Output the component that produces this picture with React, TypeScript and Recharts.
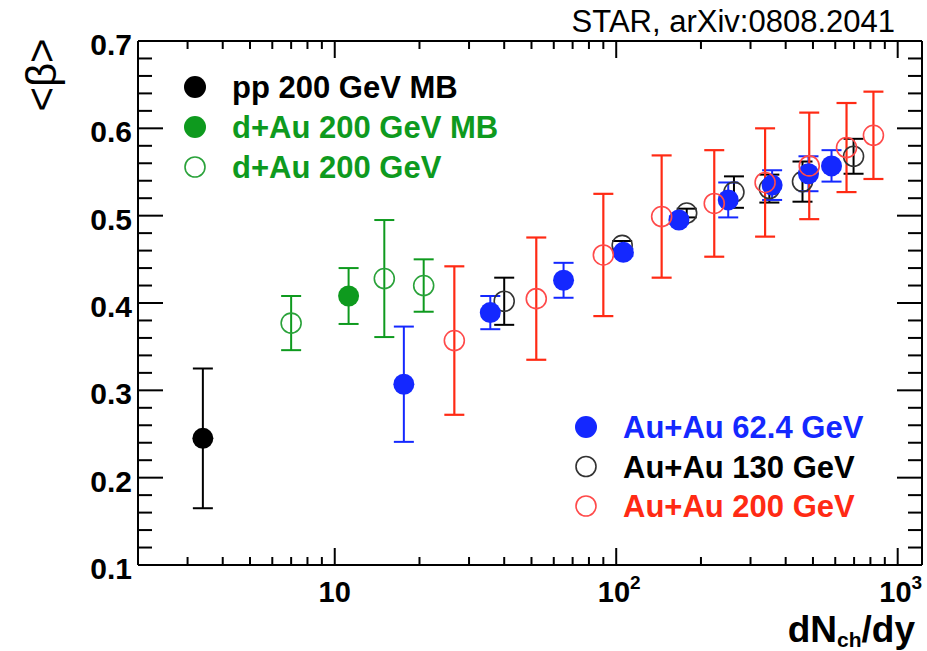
import { ScatterChart, Scatter, XAxis, YAxis, ErrorBar } from 'recharts';

// dN_ch/dy, <beta>, error
const ppX = [3.4];
const ppY = [0.245];
const ppErr = [0.08];

const dAuMBX = [11.2];
const dAuMBY = [0.408];
const dAuMBErr = [0.032];

const dAuX = [7.0, 15.0, 20.7];
const dAuY = [0.377, 0.428, 0.42];
const dAuErr = [0.031, 0.067, 0.03];

const au62X = [17.6, 35.7, 65, 106, 167, 250, 358, 482, 582];
const au62Y = [0.307, 0.389, 0.426, 0.458, 0.495, 0.518, 0.535, 0.548, 0.557];
const au62Err = [0.066, 0.019, 0.02, 0.004, 0.004, 0.02, 0.017, 0.02, 0.018];

const au130X = [40, 105, 178, 262, 350, 459, 697];
const au130Y = [0.402, 0.466, 0.503, 0.527, 0.531, 0.539, 0.568];
const au130Err = [0.027, 0.005, 0.005, 0.018, 0.016, 0.023, 0.02];

const au200X = [26.6, 52, 90, 145, 223, 338, 485, 658, 820];
const au200Y = [0.357, 0.405, 0.455, 0.499, 0.514, 0.538, 0.557, 0.578, 0.592];
const au200Err = [0.085, 0.07, 0.07, 0.07, 0.061, 0.062, 0.061, 0.051, 0.05];

const yMajor = [0.1, 0.2, 0.3, 0.4, 0.5, 0.6, 0.7];
const xMajor = [10, 100, 1000];

const yTicks: number[] = [];
for (let i = 0; i <= 30; i++) yTicks.push(+(0.1 + i * 0.02).toFixed(2));
const xTicks: number[] = [];
[1, 10, 100].forEach((d) => {
  for (let m = 1; m <= 9; m++) {
    const v = m * d;
    if (v >= 3 && v <= 1000) xTicks.push(v);
  }
});
xTicks.push(1000);

const zip = (xs: number[], ys: number[], es: number[]) =>
  xs.map((x, i) => ({ x, y: ys[i], err: es[i] }));

const BLACK = '#000';
const GREEN = '#0e9a1e';
const GREEN_OPEN = '#2aa23a';
const BLUE = '#1428ff';
const RED = '#ff2a14';
const RED_OPEN = '#ff4a4a';

const FONT = '"Liberation Sans", Arial, Helvetica, sans-serif';

const isMajorY = (v: number) => yMajor.some((m) => Math.abs(m - v) < 1e-6);
const isMajorX = (v: number) => xMajor.includes(v);

const LeftTick = (p: any) => {
  const v = p.payload.value;
  const major = isMajorY(v);
  return (
    <g>
      <line x1={p.x} x2={p.x + (major ? 25 : 14)} y1={p.y} y2={p.y} stroke="#000" strokeWidth={2} />
      {major && (
        <text x={p.x - 6} y={p.y + 14} textAnchor="end" fontFamily={FONT} fontWeight="bold" fontSize={30} fill="#000">
          {v.toFixed(1)}
        </text>
      )}
    </g>
  );
};

const RightTick = (p: any) => {
  const major = isMajorY(p.payload.value);
  return <line x1={p.x} x2={p.x - (major ? 25 : 14)} y1={p.y} y2={p.y} stroke="#000" strokeWidth={2} />;
};

const BottomTick = (p: any) => {
  const v = p.payload.value;
  const major = isMajorX(v);
  let label = null;
  if (v === 10) {
    label = (
      <text x={p.x} y={p.y + 37} textAnchor="middle" fontFamily={FONT} fontWeight="bold" fontSize={29} fill="#000">
        10
      </text>
    );
  } else if (major) {
    label = (
      <text x={p.x + 3} y={p.y + 37} textAnchor="middle" fontFamily={FONT} fontWeight="bold" fontSize={29} fill="#000">
        10
        <tspan fontSize={19} dy={-13}>
          {Math.round(Math.log10(v))}
        </tspan>
      </text>
    );
  }
  return (
    <g>
      <line x1={p.x} x2={p.x} y1={p.y} y2={p.y - (major ? 17 : 8)} stroke="#000" strokeWidth={2} />
      {label}
    </g>
  );
};

const TopTick = (p: any) => {
  const major = isMajorX(p.payload.value);
  return <line x1={p.x} x2={p.x} y1={p.y} y2={p.y + (major ? 17 : 8)} stroke="#000" strokeWidth={2} />;
};

const filled = (color: string) => (p: any) => <circle cx={p.cx} cy={p.cy} r={10.5} fill={color} />;
const open = (color: string) => (p: any) => (
  <circle cx={p.cx} cy={p.cy} r={10} fill="none" stroke={color} strokeWidth={1.6} />
);
const nothing = () => <g />;

const legendTop = [
  { label: 'pp 200 GeV MB', color: BLACK, text: BLACK, fill: true },
  { label: 'd+Au 200 GeV MB', color: GREEN, text: GREEN, fill: true },
  { label: 'd+Au 200 GeV', color: GREEN_OPEN, text: GREEN, fill: false },
];
const legendBottom = [
  { label: 'Au+Au 62.4 GeV', color: BLUE, text: BLUE, fill: true },
  { label: 'Au+Au 130 GeV', color: '#333', text: BLACK, fill: false },
  { label: 'Au+Au 200 GeV', color: RED_OPEN, text: RED, fill: false },
];

const LegendBox = ({ items, x, y, step }: { items: typeof legendTop; x: number; y: number; step: number }) => (
  <g>
    {items.map((it, i) => (
      <g key={it.label}>
        {it.fill ? (
          <circle cx={x} cy={y + i * step} r={11} fill={it.color} />
        ) : (
          <circle cx={x} cy={y + i * step} r={10} fill="none" stroke={it.color} strokeWidth={1.6} />
        )}
        <text x={x + 37} y={y + i * step + 11} fontFamily={FONT} fontWeight="bold" fontSize={31} fill={it.text}>
          {it.label}
        </text>
      </g>
    ))}
  </g>
);

export default function App() {
  const axisLine = { stroke: '#000', strokeWidth: 2 };
  return (
    <div style={{ position: 'fixed', left: 0, top: 0, width: 927, height: 651, background: '#fff' }}>
      <ScatterChart width={927} height={651} margin={{ top: 40, right: 4, bottom: 0, left: 0 }}>
        <XAxis
          xAxisId="b"
          dataKey="x"
          type="number"
          scale="log"
          domain={[2, 1220]}
          ticks={xTicks}
          interval={0}
          allowDataOverflow
          orientation="bottom"
          height={86}
          tickSize={0}
          tickMargin={0}
          tickLine={false}
          axisLine={axisLine}
          tick={BottomTick}
        />
        <XAxis
          xAxisId="t"
          dataKey="x"
          type="number"
          scale="log"
          domain={[2, 1220]}
          ticks={xTicks}
          interval={0}
          allowDataOverflow
          orientation="top"
          height={1}
          tickSize={0}
          tickMargin={0}
          tickLine={false}
          axisLine={axisLine}
          tick={TopTick}
        />
        <YAxis
          yAxisId="l"
          dataKey="y"
          type="number"
          domain={[0.1, 0.7]}
          ticks={yTicks}
          interval={0}
          allowDataOverflow
          width={138}
          tickSize={0}
          tickMargin={0}
          tickLine={false}
          axisLine={axisLine}
          tick={LeftTick}
        />
        <YAxis
          yAxisId="r"
          dataKey="y"
          orientation="right"
          type="number"
          domain={[0.1, 0.7]}
          ticks={yTicks}
          interval={0}
          allowDataOverflow
          width={1}
          tickSize={0}
          tickMargin={0}
          tickLine={false}
          axisLine={axisLine}
          tick={RightTick}
        />
        {/* invisible series so the top/right frame axes get drawn */}
        <Scatter xAxisId="t" yAxisId="r" data={zip(ppX, ppY, ppErr)} shape={nothing} isAnimationActive={false} />
        <Scatter xAxisId="b" yAxisId="l" data={zip(dAuX, dAuY, dAuErr)} shape={open(GREEN_OPEN)} isAnimationActive={false}>
          <ErrorBar dataKey="err" direction="y" width={10} strokeWidth={2} stroke={GREEN} isAnimationActive={false} />
        </Scatter>
        <Scatter xAxisId="b" yAxisId="l" data={zip(dAuMBX, dAuMBY, dAuMBErr)} shape={filled(GREEN)} isAnimationActive={false}>
          <ErrorBar dataKey="err" direction="y" width={10} strokeWidth={2} stroke={GREEN} isAnimationActive={false} />
        </Scatter>
        <Scatter xAxisId="b" yAxisId="l" data={zip(ppX, ppY, ppErr)} shape={filled(BLACK)} isAnimationActive={false}>
          <ErrorBar dataKey="err" direction="y" width={10} strokeWidth={2} stroke={BLACK} isAnimationActive={false} />
        </Scatter>
        <Scatter xAxisId="b" yAxisId="l" data={zip(au130X, au130Y, au130Err)} shape={open('#333')} isAnimationActive={false}>
          <ErrorBar dataKey="err" direction="y" width={10} strokeWidth={2} stroke={BLACK} isAnimationActive={false} />
        </Scatter>
        <Scatter xAxisId="b" yAxisId="l" data={zip(au62X, au62Y, au62Err)} shape={filled(BLUE)} isAnimationActive={false}>
          <ErrorBar dataKey="err" direction="y" width={10} strokeWidth={2} stroke={BLUE} isAnimationActive={false} />
        </Scatter>
        <Scatter xAxisId="b" yAxisId="l" data={zip(au200X, au200Y, au200Err)} shape={open(RED_OPEN)} isAnimationActive={false}>
          <ErrorBar dataKey="err" direction="y" width={10} strokeWidth={2.2} stroke={RED} isAnimationActive={false} />
        </Scatter>
      </ScatterChart>
      <svg width={927} height={651} style={{ position: 'absolute', left: 0, top: 0, pointerEvents: 'none' }}>
        <text x={895} y={32} textAnchor="end" fontFamily={FONT} fontSize={31} fill="#000">
          STAR, arXiv:0808.2041
        </text>
        <text
          x={56}
          y={75}
          transform="rotate(-90 56 75)"
          textAnchor="middle"
          fontFamily={FONT}
          fontSize={42}
          fill="#000"
        >
          {'<β>'}
        </text>
        <text x={915} y={642} textAnchor="end" fontFamily={FONT} fontWeight="bold" fontSize={37} fill="#000">
          dN
          <tspan fontSize={21} dy={5}>
            ch
          </tspan>
          <tspan dy={-5}>/dy</tspan>
        </text>
        <LegendBox items={legendTop} x={195} y={87} step={40} />
        <LegendBox items={legendBottom} x={586} y={427} step={39.5} />
      </svg>
    </div>
  );
}
